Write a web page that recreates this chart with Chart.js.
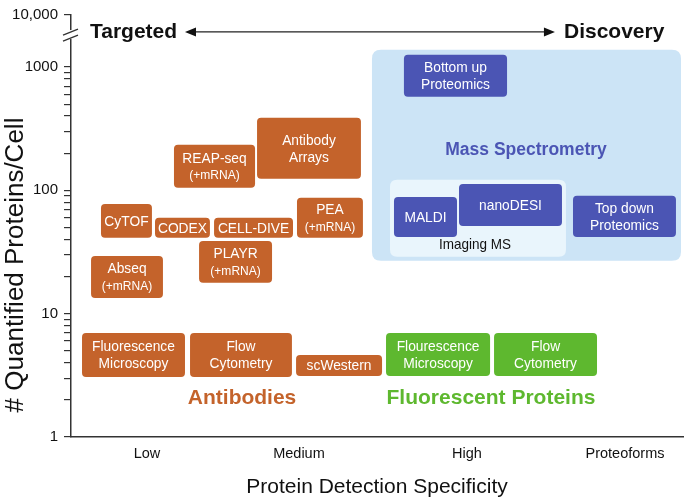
<!DOCTYPE html>
<html>
<head>
<meta charset="utf-8">
<script src="https://cdn.jsdelivr.net/npm/chart.js@4/dist/chart.umd.min.js"></script>
<style>
  html, body { margin: 0; padding: 0; background: #ffffff; }
  #wrap { width: 688px; height: 502px; }
</style>
</head>
<body>
<div id="wrap"><canvas id="c" width="688" height="502"></canvas></div>
<script>
// ---------- DATA ----------
const specificityCategories = ['Low', 'Medium', 'High', 'Proteoforms'];
const specificityTickAt = [0.497, 1.490, 2.588, 3.621];

const yTickValues = [1, 2, 3, 4, 5, 6, 7, 8, 9, 10, 20, 30, 40, 50, 60, 70, 80, 90,
                     100, 200, 300, 400, 500, 600, 700, 800, 900, 1000, 2640];
const yTickLabels = { 1: '1', 10: '10', 100: '100', 1000: '1000', 2640: '10,000' };

// methods (boxes): range along specificity axis and range of proteins/cell
const methodNames = [
  'Fluorescence\nMicroscopy', 'Flow\nCytometry', 'scWestern', 'Abseq\n(+mRNA)', 'CyTOF',
  'CODEX', 'CELL-DIVE', 'PLAYR\n(+mRNA)', 'REAP-seq\n(+mRNA)', 'Antibody\nArrays', 'PEA\n(+mRNA)',
  'Bottom up\nProteomics', 'MALDI', 'nanoDESI', 'Top down\nProteomics',
  'Flourescence\nMicroscopy', 'Flow\nCytometry'
];
const methodGroup = [
  'Antibodies', 'Antibodies', 'Antibodies', 'Antibodies', 'Antibodies',
  'Antibodies', 'Antibodies', 'Antibodies', 'Antibodies', 'Antibodies', 'Antibodies',
  'Mass Spectrometry', 'Mass Spectrometry', 'Mass Spectrometry', 'Mass Spectrometry',
  'Fluorescent Proteins', 'Fluorescent Proteins'
];
const specStart = [0.072, 0.778, 1.471, 0.131, 0.196, 0.549, 0.935, 0.837, 0.673, 1.216, 1.477,
                   2.176, 2.111, 2.536, 3.281, 2.059, 2.765];
const specEnd   = [0.745, 1.444, 2.033, 0.601, 0.529, 0.908, 1.451, 1.314, 1.203, 1.895, 1.908,
                   2.850, 2.523, 3.209, 3.954, 2.739, 3.438];
const countLow  = [3.07, 3.07, 3.12, 13.4, 41.2, 41.2, 41.2, 17.8, 104.7, 123.9, 41.2,
                   573, 41.9, 51.5, 41.9, 3.12, 3.12];
const countHigh = [6.98, 6.98, 4.63, 29.4, 77.6, 59.8, 59.8, 38.9, 233.8, 387, 86.9,
                   1256, 88.5, 112.8, 90.2, 6.98, 6.98];

// background regions
const regionNames = ['Mass Spectrometry', 'Imaging MS'];
const regionSpecStart = [1.967, 2.085];
const regionSpecEnd   = [3.987, 3.235];
const regionCountLow  = [26.8, 28.9];
const regionCountHigh = [1378, 121.6];

// group labels
const groupLabelNames = ['Antibodies', 'Fluorescent Proteins', 'Mass Spectrometry', 'Imaging MS'];
const groupLabelSpec  = [1.118, 2.745, 2.974, 2.641];
const groupLabelCount = [2.07, 2.07, 213, 36.1];

// ---------- STYLE ----------
const COLORS = {
  'Antibodies': '#C4632B',
  'Mass Spectrometry': '#4B55B4',
  'Fluorescent Proteins': '#5EB82F'
};
const REGION_COLORS = ['#CCE4F6', '#E9F5FC'];
const LABEL_STYLE = {
  'Antibodies': { color: '#C4632B', font: 'bold 21px "Liberation Sans", Arial, sans-serif' },
  'Fluorescent Proteins': { color: '#5EB82F', font: 'bold 21px "Liberation Sans", Arial, sans-serif' },
  'Mass Spectrometry': { color: '#4B55B4', font: 'bold 17.5px "Liberation Sans", Arial, sans-serif' },
  'Imaging MS': { color: '#111111', font: '15px "Liberation Sans", Arial, sans-serif', condensed: 0.9 }
};
const FAMILY = '"Liberation Sans", Arial, sans-serif';

function roundRect(ctx, x, y, w, h, r) {
  ctx.beginPath();
  ctx.moveTo(x + r, y);
  ctx.lineTo(x + w - r, y);
  ctx.quadraticCurveTo(x + w, y, x + w, y + r);
  ctx.lineTo(x + w, y + h - r);
  ctx.quadraticCurveTo(x + w, y + h, x + w - r, y + h);
  ctx.lineTo(x + r, y + h);
  ctx.quadraticCurveTo(x, y + h, x, y + h - r);
  ctx.lineTo(x, y + r);
  ctx.quadraticCurveTo(x, y, x + r, y);
  ctx.closePath();
}

function condensedText(ctx, text, x, y, font, sx) {
  ctx.save();
  ctx.font = font;
  ctx.translate(x, y);
  ctx.scale(sx, 1);
  ctx.fillText(text, 0, 0);
  ctx.restore();
}

const boxesPlugin = {
  id: 'boxes',
  beforeDatasetsDraw(chart) {
    const ctx = chart.ctx;
    const xs = chart.scales.x, ys = chart.scales.y;
    // regions
    for (let i = 0; i < regionNames.length; i++) {
      const x0 = xs.getPixelForValue(regionSpecStart[i]);
      const x1 = xs.getPixelForValue(regionSpecEnd[i]);
      const y0 = ys.getPixelForValue(regionCountHigh[i]);
      const y1 = ys.getPixelForValue(regionCountLow[i]);
      ctx.save();
      ctx.fillStyle = REGION_COLORS[i];
      roundRect(ctx, x0, y0, x1 - x0, y1 - y0, i === 0 ? 9 : 7);
      ctx.fill();
      ctx.restore();
    }
    // method boxes
    for (let i = 0; i < methodNames.length; i++) {
      const x0 = xs.getPixelForValue(specStart[i]);
      const x1 = xs.getPixelForValue(specEnd[i]);
      const y0 = ys.getPixelForValue(countHigh[i]);
      const y1 = ys.getPixelForValue(countLow[i]);
      ctx.save();
      ctx.fillStyle = COLORS[methodGroup[i]];
      roundRect(ctx, x0, y0, x1 - x0, y1 - y0, 4);
      ctx.fill();
      ctx.fillStyle = '#ffffff';
      ctx.textAlign = 'center';
      ctx.textBaseline = 'middle';
      const lines = methodNames[i].split('\n');
      const cx = (x0 + x1) / 2, cy = (y0 + y1) / 2;
      const lh = 17;
      lines.forEach((ln, k) => {
        const ly = cy + (k - (lines.length - 1) / 2) * lh + 0.5;
        const small = ln.startsWith('(');
        condensedText(ctx, ln, cx, ly, (small ? '13.5px ' : '15.5px ') + FAMILY, 0.89);
      });
      ctx.restore();
    }
    // group labels
    for (let i = 0; i < groupLabelNames.length; i++) {
      const st = LABEL_STYLE[groupLabelNames[i]];
      const px = xs.getPixelForValue(groupLabelSpec[i]);
      const py = ys.getPixelForValue(groupLabelCount[i]);
      ctx.save();
      ctx.fillStyle = st.color;
      ctx.textAlign = 'center';
      ctx.textBaseline = 'middle';
      condensedText(ctx, groupLabelNames[i], px, py, st.font, st.condensed || 1);
      ctx.restore();
    }
  },
  afterDraw(chart) {
    const ctx = chart.ctx;
    const xs = chart.scales.x, ys = chart.scales.y;
    const area = chart.chartArea;
    // axis break on y axis
    const ax = area.left;
    const yb = ys.getPixelForValue(1850);
    ctx.save();
    ctx.fillStyle = '#ffffff';
    ctx.fillRect(ax - 3, yb - 4, 6, 9);
    ctx.strokeStyle = '#333333';
    ctx.lineWidth = 1.3;
    ctx.beginPath();
    ctx.moveTo(ax - 8, yb + 1); ctx.lineTo(ax + 7, yb - 5);
    ctx.moveTo(ax - 8, yb + 7); ctx.lineTo(ax + 7, yb + 1);
    ctx.stroke();
    ctx.restore();

    // Targeted <-> Discovery arrow
    const ay = ys.getPixelForValue(1923);
    const tx = xs.getPixelForValue(0.124);
    const aL = xs.getPixelForValue(0.745);
    const aR = xs.getPixelForValue(3.163);
    const dx = xs.getPixelForValue(3.222);
    ctx.save();
    ctx.fillStyle = '#111111';
    ctx.font = 'bold 21px ' + FAMILY;
    ctx.textBaseline = 'middle';
    ctx.textAlign = 'left';
    ctx.fillText('Targeted', tx, ay);
    ctx.fillText('Discovery', dx, ay);
    ctx.strokeStyle = '#222222';
    ctx.lineWidth = 1.3;
    ctx.beginPath();
    ctx.moveTo(aL + 6, ay); ctx.lineTo(aR - 6, ay);
    ctx.stroke();
    ctx.beginPath();
    ctx.moveTo(aL, ay); ctx.lineTo(aL + 11, ay - 4.5); ctx.lineTo(aL + 11, ay + 4.5); ctx.closePath();
    ctx.moveTo(aR, ay); ctx.lineTo(aR - 11, ay - 4.5); ctx.lineTo(aR - 11, ay + 4.5); ctx.closePath();
    ctx.fill();
    ctx.restore();

    // y axis title
    ctx.save();
    ctx.fillStyle = '#111111';
    ctx.font = '26px ' + FAMILY;
    ctx.textAlign = 'center';
    ctx.textBaseline = 'middle';
    ctx.translate(16, 265);
    ctx.rotate(-Math.PI / 2);
    ctx.fillText('# Quantified Proteins/Cell', 0, 0);
    ctx.restore();
  }
};

new Chart(document.getElementById('c'), {
  type: 'scatter',
  data: { datasets: [{ data: [], pointRadius: 0 }] },
  plugins: [boxesPlugin],
  options: {
    responsive: false,
    animation: false,
    layout: { padding: { top: 15, right: 5, left: 0, bottom: 0 } },
    plugins: { legend: { display: false }, tooltip: { enabled: false } },
    scales: {
      x: {
        type: 'linear', min: 0, max: 4,
        afterBuildTicks: s => { s.ticks = specificityTickAt.map(v => ({ value: v })); },
        afterFit: s => { s.height = 65; },
        ticks: {
          autoSkip: false, maxRotation: 0, padding: 8,
          color: '#111111',
          font: { size: 14.5, family: FAMILY },
          callback: (v, i) => specificityCategories[i]
        },
        grid: { display: false, drawTicks: false },
        border: { display: true, color: '#333333', width: 1.5 },
        title: {
          display: true, text: 'Protein Detection Specificity', color: '#111111',
          font: { size: 21, family: FAMILY }, padding: { top: 0, bottom: 2 }
        }
      },
      y: {
        type: 'logarithmic', min: 1, max: 2640,
        afterBuildTicks: s => { s.ticks = yTickValues.map(v => ({ value: v })); },
        afterFit: s => { s.width = 71; },
        ticks: {
          autoSkip: false, padding: 6,
          color: '#111111',
          font: { size: 15, family: FAMILY },
          callback: (v) => (yTickLabels[v] !== undefined ? yTickLabels[v] : '')
        },
        grid: { drawOnChartArea: false, drawTicks: true, tickLength: 7, color: '#333333', lineWidth: 1.2 },
        border: { display: true, color: '#333333', width: 1.5 }
      }
    }
  }
});
</script>
</body>
</html>
